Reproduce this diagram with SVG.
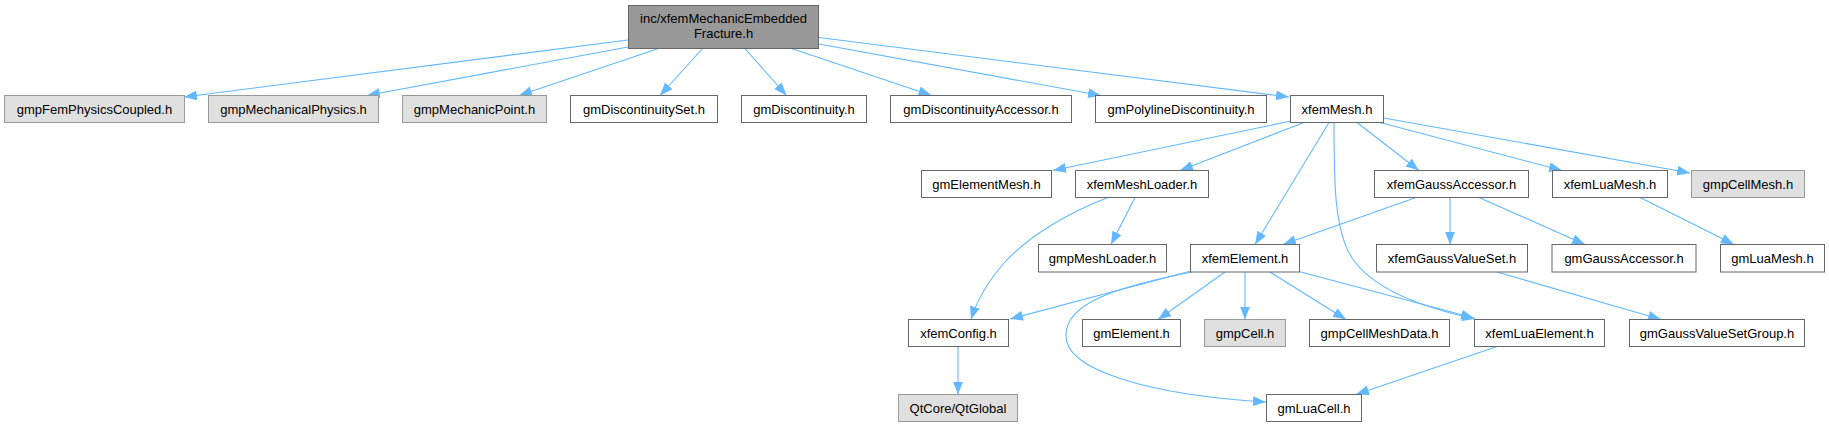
<svg xmlns="http://www.w3.org/2000/svg" width="1829" height="427" viewBox="0 0 1829 427">
<style>
text{font-family:"Liberation Sans",Arial,Helvetica,sans-serif;font-size:13px;fill:#000;text-anchor:middle}
.w{fill:#ffffff;stroke:#666666;stroke-width:1}
.g{fill:#e0e0e0;stroke:#999999;stroke-width:1}
.top{fill:#999999;stroke:#666666;stroke-width:1}
.e{fill:none;stroke:#63b8ff;stroke-width:1.1;marker-end:url(#arr)}
</style>
<defs>
<marker id="arr" markerUnits="userSpaceOnUse" markerWidth="14" markerHeight="11" refX="13" refY="5" orient="auto">
<path d="M0,0 L13,5 L0,10 z" fill="#63b8ff"/>
</marker>
</defs>
<rect width="1829" height="427" fill="#ffffff"/>
<g id="edges">
<path class="e" d="M628,40 L184,97"/>
<path class="e" d="M628,47 L367,95.5"/>
<path class="e" d="M660,48 L519,95.5"/>
<path class="e" d="M703,48 L660,95.5"/>
<path class="e" d="M744.5,48 L786.5,95.5"/>
<path class="e" d="M790,48 L931.5,95.5"/>
<path class="e" d="M819,44 L1101,95.5"/>
<path class="e" d="M819,37.5 L1289,97"/>
<path class="e" d="M1291,121 L1053,170.5"/>
<path class="e" d="M1304,122.5 L1180,170.5"/>
<path class="e" d="M1329,122.5 L1255,244.5"/>
<path class="e" d="M1334,122.5 C1334,180 1334,230 1352,258 C1372,288 1420,307 1475,319"/>
<path class="e" d="M1357,122.5 L1419,170.5"/>
<path class="e" d="M1380,122.5 L1562,170.5"/>
<path class="e" d="M1384,118 L1690,173"/>
<path class="e" d="M1135,197.5 L1111,244.5"/>
<path class="e" d="M1108,197.5 C1070,212 1030,235 1005,262 C988,281 977,300 971,319.5"/>
<path class="e" d="M1416,197.5 L1283,244.5"/>
<path class="e" d="M1450,197.5 L1450,244.5"/>
<path class="e" d="M1479,197.5 L1585,244.5"/>
<path class="e" d="M1640,197.5 L1734,244.5"/>
<path class="e" d="M1191,271 L1010,319"/>
<path class="e" d="M1192,272 C1110,288 1066,305 1066,335 C1064,370 1150,395 1266,402"/>
<path class="e" d="M1225,272 L1158,319.5"/>
<path class="e" d="M1245,272 L1245,319.5"/>
<path class="e" d="M1270,272 L1346,319.5"/>
<path class="e" d="M1299,271.5 L1474,318"/>
<path class="e" d="M1497,346.5 L1356,394.5"/>
<path class="e" d="M1497,272 L1661,319.5"/>
<path class="e" d="M958,346.5 L958,394.5"/>
</g>
<g id="n0"><rect class="top" x="628.5" y="5.5" width="190" height="43"/><text x="723.5" y="23.3">inc/xfemMechanicEmbedded</text><text x="723.5" y="38.3">Fracture.h</text></g>
<g id="n1"><rect class="g" x="4.5" y="95.5" width="180" height="27"/><text x="94.5" y="113.5">gmpFemPhysicsCoupled.h</text></g>
<g id="n2"><rect class="g" x="208.5" y="95.5" width="170" height="27"/><text x="293.5" y="113.5">gmpMechanicalPhysics.h</text></g>
<g id="n3"><rect class="g" x="402.5" y="95.5" width="144" height="27"/><text x="474.5" y="113.5">gmpMechanicPoint.h</text></g>
<g id="n4"><rect class="w" x="570.5" y="95.5" width="147" height="27"/><text x="644" y="113.5">gmDiscontinuitySet.h</text></g>
<g id="n5"><rect class="w" x="741.5" y="95.5" width="125" height="27"/><text x="804" y="113.5">gmDiscontinuity.h</text></g>
<g id="n6"><rect class="w" x="890.5" y="95.5" width="181" height="27"/><text x="981" y="113.5">gmDiscontinuityAccessor.h</text></g>
<g id="n7"><rect class="w" x="1095.5" y="95.5" width="171" height="27"/><text x="1181" y="113.5">gmPolylineDiscontinuity.h</text></g>
<g id="n8"><rect class="w" x="1290.5" y="95.5" width="93" height="27"/><text x="1337" y="113.5">xfemMesh.h</text></g>
<g id="n9"><rect class="w" x="921.5" y="170.5" width="130" height="27"/><text x="986.5" y="188.5">gmElementMesh.h</text></g>
<g id="n10"><rect class="w" x="1075.5" y="170.5" width="133" height="27"/><text x="1142" y="188.5">xfemMeshLoader.h</text></g>
<g id="n11"><rect class="w" x="1374.5" y="170.5" width="154" height="27"/><text x="1451.5" y="188.5">xfemGaussAccessor.h</text></g>
<g id="n12"><rect class="w" x="1552.5" y="170.5" width="115" height="27"/><text x="1610" y="188.5">xfemLuaMesh.h</text></g>
<g id="n13"><rect class="g" x="1691.5" y="170.5" width="113" height="27"/><text x="1748" y="188.5">gmpCellMesh.h</text></g>
<g id="n14"><rect class="w" x="1038.5" y="244.5" width="128" height="27.5"/><text x="1102.5" y="262.8">gmpMeshLoader.h</text></g>
<g id="n15"><rect class="w" x="1190.5" y="244.5" width="109" height="27.5"/><text x="1245" y="262.8">xfemElement.h</text></g>
<g id="n16"><rect class="w" x="1376.5" y="244.5" width="151" height="27.5"/><text x="1452" y="262.8">xfemGaussValueSet.h</text></g>
<g id="n17"><rect class="w" x="1552" y="244.5" width="144" height="27.5"/><text x="1624" y="262.8">gmGaussAccessor.h</text></g>
<g id="n18"><rect class="w" x="1720.5" y="244.5" width="104" height="27.5"/><text x="1772.5" y="262.8">gmLuaMesh.h</text></g>
<g id="n19"><rect class="w" x="908.5" y="319.5" width="100" height="27"/><text x="958.5" y="337.5">xfemConfig.h</text></g>
<g id="n20"><rect class="w" x="1082.5" y="319.5" width="98" height="27"/><text x="1131.5" y="337.5">gmElement.h</text></g>
<g id="n21"><rect class="g" x="1204.5" y="319.5" width="81" height="27"/><text x="1245" y="337.5">gmpCell.h</text></g>
<g id="n22"><rect class="w" x="1309.5" y="319.5" width="140" height="27"/><text x="1379.5" y="337.5">gmpCellMeshData.h</text></g>
<g id="n23"><rect class="w" x="1474.5" y="319.5" width="130" height="27"/><text x="1539.5" y="337.5">xfemLuaElement.h</text></g>
<g id="n24"><rect class="w" x="1629.5" y="319.5" width="175" height="27"/><text x="1717" y="337.5">gmGaussValueSetGroup.h</text></g>
<g id="n25"><rect class="g" x="898.5" y="394.5" width="119" height="27"/><text x="958" y="412.5">QtCore/QtGlobal</text></g>
<g id="n26"><rect class="w" x="1266.5" y="394.5" width="95" height="27"/><text x="1314" y="412.5">gmLuaCell.h</text></g>
</svg>
